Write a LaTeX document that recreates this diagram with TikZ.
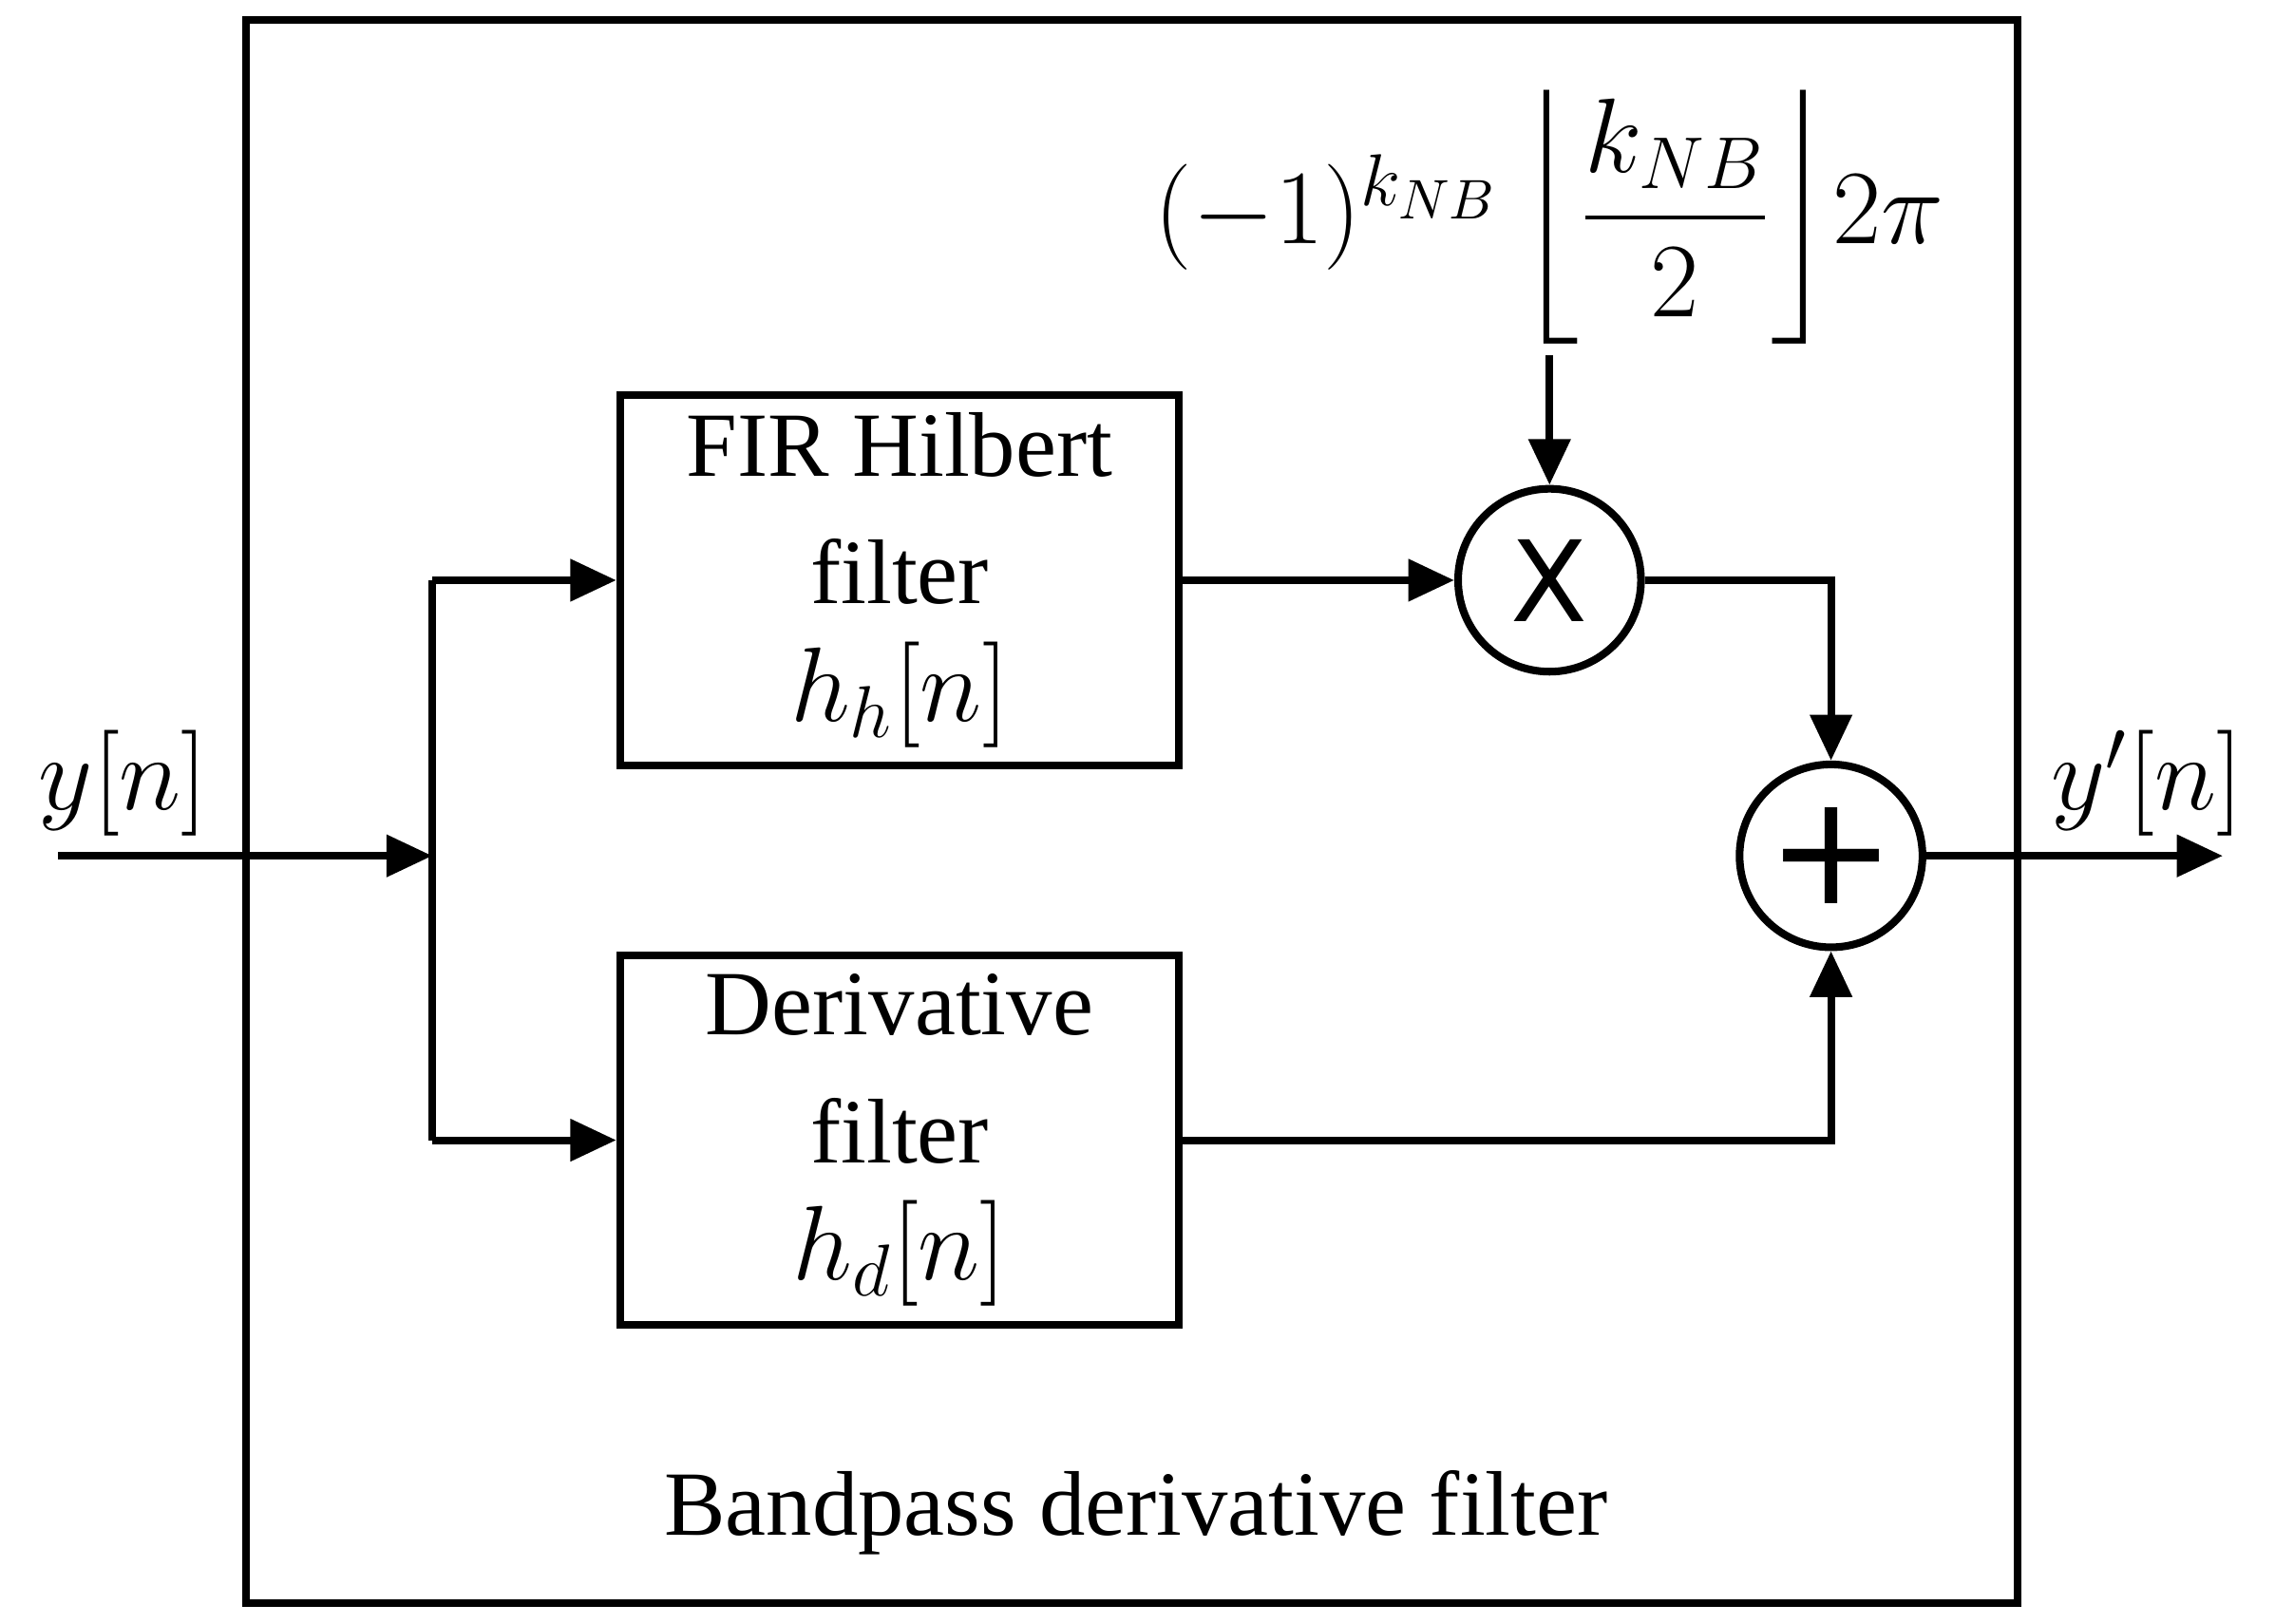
\documentclass[tikz,border=0pt]{standalone}
\usepackage{amsmath}
\usepackage{fontspec}
\setmainfont{Liberation Serif}
\newfontfamily\sansf{DejaVu Sans}
\usetikzlibrary{arrows.meta}
\begin{document}
\begin{tikzpicture}[x=0.01cm,y=-0.01cm,
    line width=1.5pt,
    block/.style={draw, minimum width=3.85cm, minimum height=2.55cm, align=center, font=\fontsize{18}{25}\selectfont},
    op/.style={draw, circle, minimum size=1.26cm, inner sep=0pt},
    arr/.style={-{Triangle[length=9pt,width=8pt]}},
    lbl/.style={font=\fontsize{21}{26}\selectfont}
  ]
  \useasboundingbox (0,0) rectangle (1568,1119);
  \node[draw, minimum width=12.2cm, minimum height=10.91cm] (outer) at (780,559.5) {};
  \node[block] (fir) at (620,400) {FIR Hilbert\\filter\\[-2pt]{\fontsize{21}{26}\selectfont$h_h[n]$}};
  \node[block] (der) at (620,786) {Derivative\\filter\\[-2pt]{\fontsize{21}{26}\selectfont$h_d[n]$}};
  \node[op] (mul) at (1068,400) {\sansf\fontsize{22}{26}\selectfont X};
  \node[op] (add) at (1262,590) {\sansf\fontsize{30}{30}\selectfont +};
  \node[lbl] (frm) at (1068,150) {$(-1)^{k_{NB}}\,\biggl\lfloor\dfrac{k_{NB}}{2}\biggr\rfloor 2\pi$};
  \node[lbl] (yin) at (85,540) {$y[n]$};
  \node[lbl] (yout) at (1480,540) {$y'[n]$};
  \node[font=\fontsize{18}{24}\selectfont] (title) at (783,1043) {Bandpass derivative filter};
  \coordinate (in) at (40,590);
  \coordinate (j) at (298,590);
  \coordinate (out) at (1532,590);
  \coordinate (mtop) at (1068,245);
  \draw[arr] (in) -- (j);
  \draw (j |- fir) -- (j |- der);
  \draw[arr] (j |- fir) -- (fir.west);
  \draw[arr] (j |- der) -- (der.west);
  \draw[arr] (fir.east) -- (mul.west);
  \draw[arr] (mtop) -- (mul.north);
  \draw[arr] (mul.east) -| (add.north);
  \draw[arr] (der.east) -| (add.south);
  \draw[arr] (add.east) -- (out);
\end{tikzpicture}
\end{document}
